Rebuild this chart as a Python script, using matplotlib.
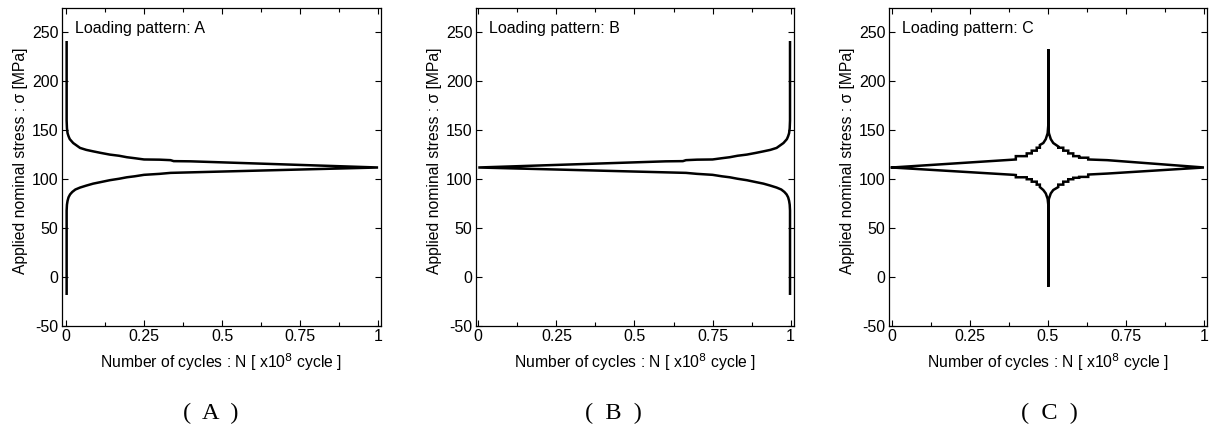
import matplotlib.pyplot as plt
from matplotlib.ticker import MultipleLocator

# pattern A: stress history vs cycles (upper branch from top, lower branch from bottom)
a_up_n = [0.002, 0.002, 0.003, 0.005, 0.008, 0.012, 0.023, 0.045, 0.065, 0.087, 0.11, 0.14,
          0.17, 0.195, 0.22, 0.25, 0.30, 0.335, 0.345, 0.40, 1.0]
a_up_s = [240, 160, 152, 147, 144, 141, 137, 132, 130, 128.5, 127, 125.2,
          124, 122.5, 121.5, 120.2, 120, 119.5, 118.5, 118.3, 112]
a_lo_n = [0.002, 0.002, 0.003, 0.005, 0.008, 0.013, 0.02, 0.03, 0.045, 0.065, 0.087, 0.11,
          0.14, 0.17, 0.195, 0.22, 0.25, 0.30, 0.335, 1.0]
a_lo_s = [-17, 68, 74, 78, 81.5, 84.5, 87, 89.5, 91.5, 93.5, 95.5, 97,
          99, 100.5, 102, 103, 104.5, 105.5, 106.5, 112]

# pattern B (same history, reversed in time)
b_up_n = [0.998, 0.998, 0.997, 0.995, 0.992, 0.988, 0.977, 0.955, 0.935, 0.913, 0.89, 0.86,
          0.83, 0.805, 0.78, 0.75, 0.70, 0.665, 0.655, 0.60, 0.0]
b_up_s = [240, 160, 152, 147, 144, 141, 137, 132, 130, 128.5, 127, 125.2,
          124, 122.5, 121.5, 120.2, 120, 119.5, 118.5, 118.3, 112]
b_lo_n = [0.998, 0.998, 0.997, 0.995, 0.992, 0.987, 0.98, 0.97, 0.955, 0.935, 0.913, 0.89,
          0.86, 0.83, 0.805, 0.78, 0.75, 0.70, 0.665, 0.0]
b_lo_s = [-17, 68, 74, 78, 81.5, 84.5, 87, 89.5, 91.5, 93.5, 95.5, 97,
          99, 100.5, 102, 103, 104.5, 105.5, 106.5, 112]

# pattern C: peak in the middle, four arms
c_ul_n = [0.0, 0.397, 0.397, 0.432, 0.432, 0.448, 0.448, 0.464, 0.464, 0.474, 0.474,
          0.485, 0.493, 0.499, 0.501, 0.501]
c_ul_s = [112, 120.2, 123.6, 123.6, 126.4, 126.4, 129.2, 129.2, 132.2, 132.2, 135,
          137, 141, 147, 155, 233]
c_ur_n = [0.501, 0.503, 0.509, 0.517, 0.533, 0.533, 0.549, 0.549, 0.565, 0.565, 0.581,
          0.581, 0.60, 0.60, 0.629, 0.629, 0.69, 1.0]
c_ur_s = [155, 147, 141, 137, 133.5, 132.2, 132.2, 129.2, 129.2, 126.4, 126.4,
          123.6, 123.6, 122, 122, 120.2, 119.5, 112]
c_ll_n = [0.0, 0.39, 0.397, 0.397, 0.432, 0.432, 0.448, 0.448, 0.464, 0.464, 0.474, 0.474,
          0.485, 0.493, 0.499, 0.501, 0.501]
c_ll_s = [112, 104.5, 104.3, 102.0, 102.0, 100.0, 100.0, 97.5, 97.5, 94.5, 94.5, 92,
          89, 85.5, 80, 74, -10]
c_lr_n = [0.501, 0.503, 0.509, 0.517, 0.533, 0.533, 0.549, 0.549, 0.565, 0.565, 0.581,
          0.581, 0.60, 0.60, 0.629, 0.629, 0.69, 1.0]
c_lr_s = [74, 80, 85.5, 89, 92, 94.5, 94.5, 97.5, 97.5, 100, 100,
          101.5, 101.5, 102.4, 102.4, 104.8, 105.8, 112]

plt.rcParams['font.family'] = ['Liberation Sans', 'DejaVu Sans']
plt.rcParams['font.size'] = 11.5
plt.rcParams['axes.unicode_minus'] = False

fig = plt.figure(figsize=(12.09, 4.28), dpi=100)

panels = [
    ('A', [0.0513, 0.2383, 0.2639, 0.743], (-0.0128, 1.0096),
     a_up_n + a_lo_n[::-1], a_up_s + a_lo_s[::-1], 0.174),
    ('B', [0.3937, 0.2383, 0.2630, 0.743], (-0.0074, 1.0106),
     b_up_n + b_lo_n[::-1], b_up_s + b_lo_s[::-1], 0.507),
    ('C', [0.7353, 0.2383, 0.2630, 0.743], (-0.0096, 1.0096),
     c_ul_n + c_ur_n + c_lr_n[::-1] + c_ll_n[::-1],
     c_ul_s + c_ur_s + c_lr_s[::-1] + c_ll_s[::-1], 0.868),
]

for name, rect, xlim, xs, ys, capx in panels:
    ax = fig.add_axes(rect)
    ax.plot(xs, ys, color='black', lw=1.8, solid_joinstyle='miter')
    ax.set_xlim(*xlim)
    ax.set_ylim(-50, 275)
    ax.set_xticks([0, 0.25, 0.5, 0.75, 1])
    ax.set_xticklabels(['0', '0.25', '0.5', '0.75', '1'])
    ax.xaxis.set_minor_locator(MultipleLocator(0.125))
    ax.set_yticks([-50, 0, 50, 100, 150, 200, 250])
    ax.tick_params(which='both', direction='in', top=True, right=True,
                   labelsize=11.5, width=0.8, pad=2.5)
    ax.tick_params(which='major', length=4)
    ax.tick_params(which='minor', length=3)
    for sp in ax.spines.values():
        sp.set_linewidth(0.9)
    ax.set_xlabel('Number of cycles : N [ x10$^{8}$ cycle ]', fontsize=11.3, labelpad=5)
    ax.set_ylabel('Applied nominal stress : σ [MPa]', fontsize=11.3)
    ax.yaxis.set_label_coords(-0.108, 0.52)
    ax.text(0.04, 0.96, 'Loading pattern: ' + name, transform=ax.transAxes,
            fontsize=11.5, va='top', ha='left')
    fig.text(capx, 0.035, '(  ' + name + '  )', family='Liberation Serif',
             fontsize=17.5, ha='center', va='center')

fig.savefig('out.png', dpi=100)
